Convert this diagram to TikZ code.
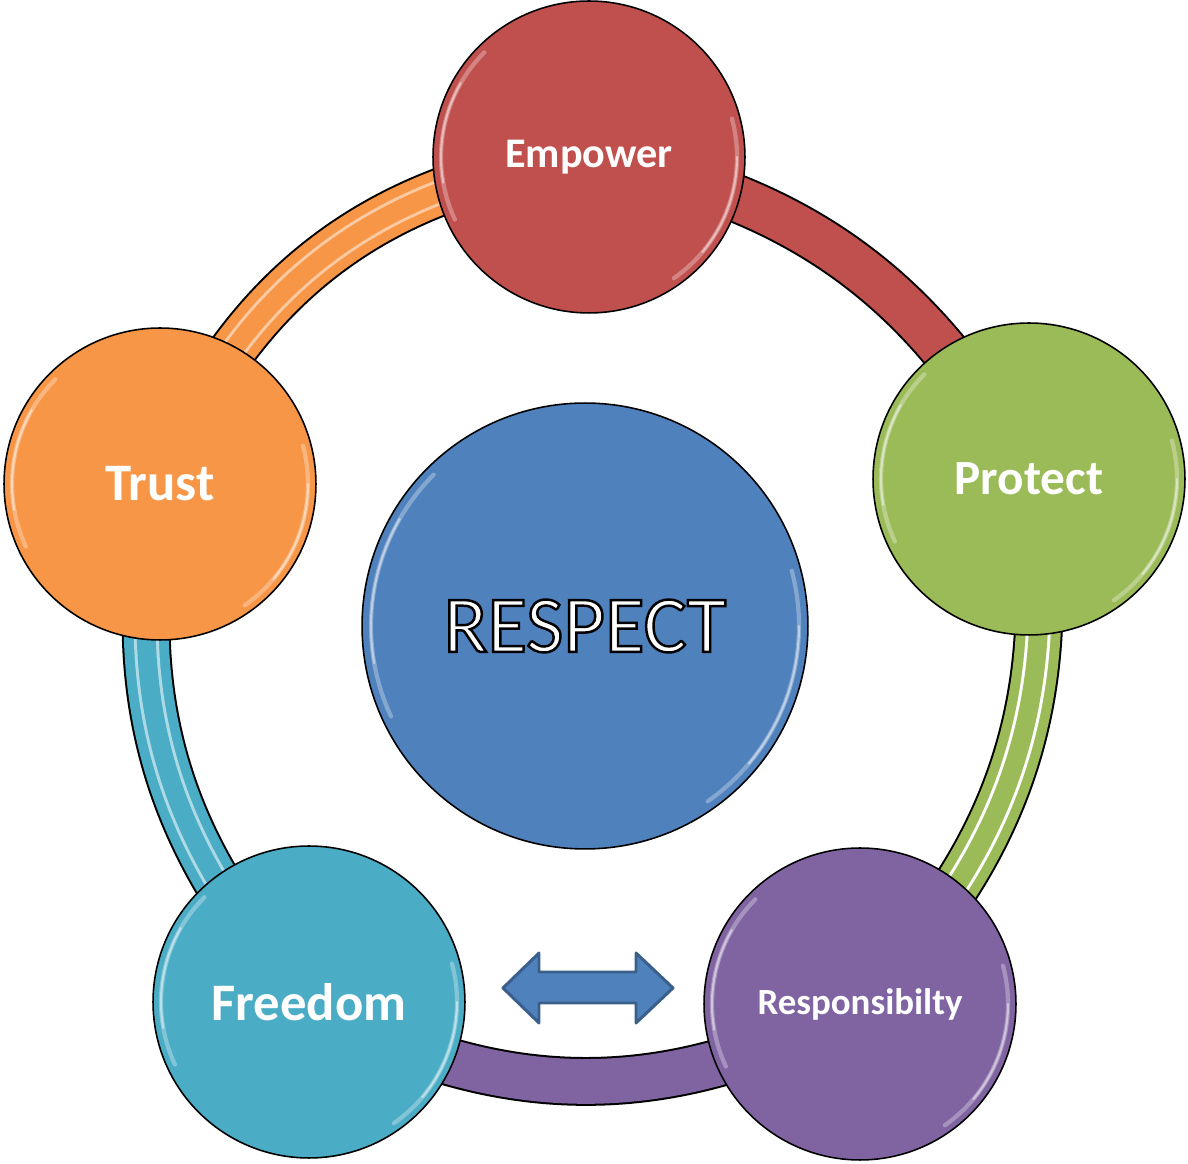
\documentclass[tikz,border=0pt]{standalone}
\usepackage{fontspec}
\setmainfont{Carlito}
\usetikzlibrary{calc,backgrounds}
\definecolor{empred}{HTML}{C0504D}
\definecolor{progreen}{HTML}{9BBB59}
\definecolor{respurple}{HTML}{8064A2}
\definecolor{freeteal}{HTML}{4BACC6}
\definecolor{trustorange}{HTML}{F79646}
\definecolor{respblue}{HTML}{4F81BD}
\definecolor{arrowedge}{HTML}{3A5F8B}
\def\outlined#1{\special{pdf:literal direct 2 Tr 1.4 w 0 0 0 RG}#1\special{pdf:literal direct 0 Tr}}
\def\ringseg[#1/#2](#3)(#4:#5){%
  \draw[line width=27.8pt, black] (#3.center) to[bend left=#5] (#4.center);
  \draw[line width=25.5pt, #1] (#3.center) to[bend left=#5] (#4.center);
  \draw[line width=14.2pt, #2] (#3.center) to[bend left=#5] (#4.center);
  \draw[line width=10.8pt, #1] (#3.center) to[bend left=#5] (#4.center);}
\def\gloss(#1)(#2){%
  \draw[white, opacity=0.3, line width=2.4pt, line cap=round] ($(#1)+(135:#2)$) arc (135:205:#2);
  \draw[white, opacity=0.45, line width=1.2pt, line cap=round] ($(#1)+(150:#2)$) arc (150:190:#2);
  \draw[white, opacity=0.3, line width=2.4pt, line cap=round] ($(#1)+(-55:#2)$) arc (-55:15:#2);
  \draw[white, opacity=0.45, line width=1.2pt, line cap=round] ($(#1)+(-40:#2)$) arc (-40:0:#2);}

\begin{document}
\begin{tikzpicture}[x=0.02cm, y=0.02cm,
    bubble/.style={circle, draw=black, line width=0.9pt, fill=#1, minimum size=6.24cm, inner sep=0pt, text=white},
    hub/.style={circle, draw=black, line width=0.9pt, fill=respblue, minimum size=8.92cm, inner sep=0pt, text=white}]
		%%%%% START %%%%%
		\useasboundingbox (0,0) rectangle (1188,1164);
		
		\node[hub, font=\fontsize{46}{50}\selectfont] (respect) at (585,538) {\outlined{RESPECT}};
		
		\node[bubble=empred, font=\bfseries\fontsize{24}{28}\selectfont] (empower) at (589,1007) {Empower};
		\node[bubble=progreen, font=\bfseries\fontsize{28}{33}\selectfont] (protect) at (1029,685) {Protect};
		\node[bubble=respurple, font=\bfseries\fontsize{21}{25}\selectfont] (resp) at (860,160) {Responsibilty};
		\node[bubble=freeteal, font=\bfseries\fontsize{30}{35}\selectfont] (freedom) at (309,162) {Freedom};
		\node[bubble=trustorange, font=\bfseries\fontsize{30}{35}\selectfont] (trust) at (160,680) {Trust};
		
		\gloss(respect)(214)
		\gloss(empower)(148)
		\gloss(protect)(148)
		\gloss(resp)(148)
		\gloss(freedom)(148)
		\gloss(trust)(148)
		
		\begin{scope}[on background layer]
		\ringseg[empred/empred](empower)(protect:26)
		\ringseg[progreen/white](protect)(resp:27)
		\ringseg[respurple/respurple](resp)(freedom:29)
		\ringseg[freeteal/freeteal!45!white](freedom)(trust:27)
		\ringseg[trustorange/trustorange!50!white](trust)(empower:31)
		\end{scope}
		
		\draw[fill=respblue, draw=arrowedge, line width=1.7pt, line join=round] (503,176) -- (539,211) -- (539,192) -- (636,192) -- (636,211) -- (673,176) -- (636,141) -- (636,161) -- (539,161) -- (539,141) -- cycle;
		
		%%%%% END %%%%%
\end{tikzpicture}
\end{document}
